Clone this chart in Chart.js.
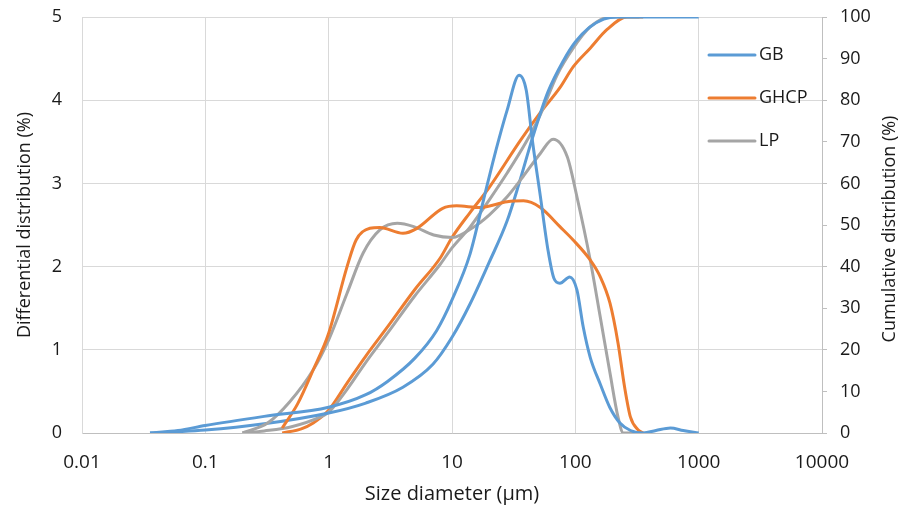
<!DOCTYPE html>
<html>
<head>
<meta charset="utf-8">
<script src="https://cdn.jsdelivr.net/npm/chart.js@4.4.0/dist/chart.umd.min.js"></script>
<style>
  html, body { margin: 0; padding: 0; background: #fff; }
</style>
</head>
<body>
<canvas id="myChart" width="912" height="511"></canvas>
<script>
// Sizes in µm, values in %
const sizeTicks = [0.01, 0.1, 1, 10, 100, 1000, 10000];
const seriesNames = ['GB', 'GHCP', 'LP'];
const seriesColors = ['#5B9BD5', '#ED7D31', '#A5A5A5'];

// GB
const gbDiffSize  = [0.0356, 0.06, 0.1, 0.3, 1, 2, 3, 5, 7.5, 10, 14, 18, 22, 28, 35, 40, 45, 52, 60, 67, 75, 90, 103, 116, 132, 160, 190, 230, 280, 355, 450, 590, 750, 1000];
const gbDiffValue = [0, 0.03, 0.09, 0.2, 0.31, 0.46, 0.62, 0.9, 1.23, 1.6, 2.15, 2.8, 3.32, 3.88, 4.3, 4.12, 3.5, 2.85, 2.2, 1.86, 1.8, 1.875, 1.72, 1.27, 0.91, 0.58, 0.31, 0.12, 0.03, 0, 0.03, 0.06, 0.03, 0];
const gbCumSize   = [0.0356, 0.1, 0.3, 1, 2, 4, 7, 10, 14, 20, 28, 35, 45, 60, 80, 100, 130, 170, 220, 1000];
const gbCumValue  = [0, 0.7, 2.2, 4.8, 7.2, 11, 16.5, 23, 31, 41, 51, 60, 71, 82, 89.5, 94, 97.5, 99.5, 100, 100];

// GHCP
const ghcpDiffSize  = [0.42, 0.56, 0.75, 1.0, 1.41, 1.67, 2.16, 2.6, 4.0, 5.2, 8.4, 10.9, 16.8, 28, 38, 52, 75, 96, 132, 159, 191, 222, 251, 280, 322, 355];
const ghcpDiffValue = [0.06, 0.35, 0.76, 1.2, 2.0, 2.32, 2.46, 2.47, 2.4, 2.46, 2.7, 2.73, 2.71, 2.78, 2.79, 2.71, 2.48, 2.32, 2.08, 1.88, 1.56, 1.08, 0.55, 0.19, 0.04, 0];
const ghcpCumSize   = [0.42, 0.6, 0.75, 1, 1.41, 2, 3, 5, 8, 10, 14, 20, 36, 52, 75, 96, 132, 181, 263, 355];
const ghcpCumValue  = [0, 1, 2.4, 5.5, 12, 18.5, 25.5, 34.5, 42, 47, 53, 59, 70.4, 77, 83, 88, 92.5, 97, 100, 100];

// LP
const lpDiffSize  = [0.2, 0.32, 0.48, 0.75, 1.0, 1.41, 1.9, 2.6, 3.6, 4.9, 7.1, 10.1, 14.8, 20, 28, 37.6, 52, 66, 86, 103, 132, 159, 191, 222, 245, 330];
const lpDiffValue = [0, 0.12, 0.37, 0.76, 1.12, 1.68, 2.16, 2.44, 2.52, 2.48, 2.38, 2.35, 2.47, 2.62, 2.84, 3.08, 3.36, 3.53, 3.32, 2.84, 2.08, 1.4, 0.72, 0.19, 0, 0];
const lpCumSize   = [0.2, 0.3, 0.5, 0.85, 1, 1.41, 2, 3, 5, 8, 10, 14, 20, 28, 40, 52, 71, 96, 132, 191, 330];
const lpCumValue  = [0, 0.5, 1.5, 3.8, 5, 10.5, 17, 24, 33, 40.5, 44.5, 49.5, 56, 62.5, 70, 76.5, 86, 92.5, 97.6, 100, 100];

function pts(xs, ys) {
  return xs.map((x, i) => ({ x: x, y: ys[i] }));
}

function line(label, xs, ys, color, axis) {
  return {
    label: label,
    data: pts(xs, ys),
    yAxisID: axis,
    borderColor: color,
    borderWidth: 3,
    pointRadius: 0,
    fill: false,
    cubicInterpolationMode: 'monotone'
  };
}

// fixed axis box sizes so the plot area sits where the reference has it
function fixWidth(w) {
  return (s) => { s.width = w; s.paddingTop = 0; s.paddingBottom = 0; };
}

Chart.defaults.font.family = '"Open Sans", sans-serif';
Chart.defaults.font.size = 18;
Chart.defaults.color = '#1a1a1a';

// legend drawn by hand (one entry per sample) + right axis title reading upward
const extras = {
  id: 'extras',
  afterDraw(chart) {
    const ctx = chart.ctx, a = chart.chartArea;
    ctx.save();
    ctx.font = '18px "Open Sans", sans-serif';
    ctx.textBaseline = 'middle';
    seriesNames.forEach((name, i) => {
      const y = a.top + 38 + i * 43;
      ctx.strokeStyle = seriesColors[i];
      ctx.lineWidth = 3;
      ctx.lineCap = 'round';
      ctx.beginPath();
      ctx.moveTo(a.right - 113, y);
      ctx.lineTo(a.right - 67, y);
      ctx.stroke();
      ctx.fillStyle = '#1a1a1a';
      ctx.fillText(name, a.right - 63, y);
    });
    ctx.translate(890, (a.top + a.bottom) / 2 + 4);
    ctx.rotate(-Math.PI / 2);
    ctx.textAlign = 'center';
    ctx.fillText('Cumulative distribution (%)', 0, 0);
    ctx.restore();
  }
};

const ctx = document.getElementById('myChart').getContext('2d');
const chart = new Chart(ctx, {
  type: 'line',
  data: {
    datasets: [
      line('GB', gbDiffSize, gbDiffValue, seriesColors[0], 'y'),
      line('GHCP', ghcpDiffSize, ghcpDiffValue, seriesColors[1], 'y'),
      line('LP', lpDiffSize, lpDiffValue, seriesColors[2], 'y'),
      line('GB cum', gbCumSize, gbCumValue, seriesColors[0], 'y1'),
      line('LP cum', lpCumSize, lpCumValue, seriesColors[2], 'y1'),
      line('GHCP cum', ghcpCumSize, ghcpCumValue, seriesColors[1], 'y1')
    ]
  },
  options: {
    responsive: false,
    animation: false,
    layout: { padding: { top: 17 } },
    plugins: {
      legend: { display: false },
      tooltip: { enabled: false }
    },
    scales: {
      x: {
        type: 'logarithmic',
        min: 0.01,
        max: 10000,
        afterBuildTicks: (s) => { s.ticks = sizeTicks.map(v => ({ value: v })); },
        afterFit: (s) => { s.height = 78; s.paddingLeft = 0; s.paddingRight = 0; },
        ticks: {
          padding: 18,
          maxRotation: 0,
          autoSkip: false,
          font: { size: 19 },
          callback: (v) => String(v)
        },
        grid: { color: '#d9d9d9', drawTicks: false },
        border: { color: '#bfbfbf' },
        title: { display: true, text: 'Size diameter (µm)', font: { size: 20 }, padding: { top: 0, bottom: 5 } }
      },
      y: {
        position: 'left',
        min: 0,
        max: 5,
        afterFit: fixWidth(82),
        ticks: { stepSize: 1, padding: 20 },
        grid: { color: '#d9d9d9', drawTicks: false },
        border: { color: '#d9d9d9' },
        title: { display: true, text: 'Differential distribution (%)', padding: { top: 14, bottom: 0 } }
      },
      y1: {
        position: 'right',
        min: 0,
        max: 100,
        afterFit: fixWidth(90),
        ticks: { stepSize: 10, padding: 13 },
        grid: { drawOnChartArea: false, drawTicks: true, tickLength: 5, color: '#bfbfbf' },
        border: { color: '#bfbfbf' }
      }
    }
  },
  plugins: [extras]
});
</script>
</body>
</html>
